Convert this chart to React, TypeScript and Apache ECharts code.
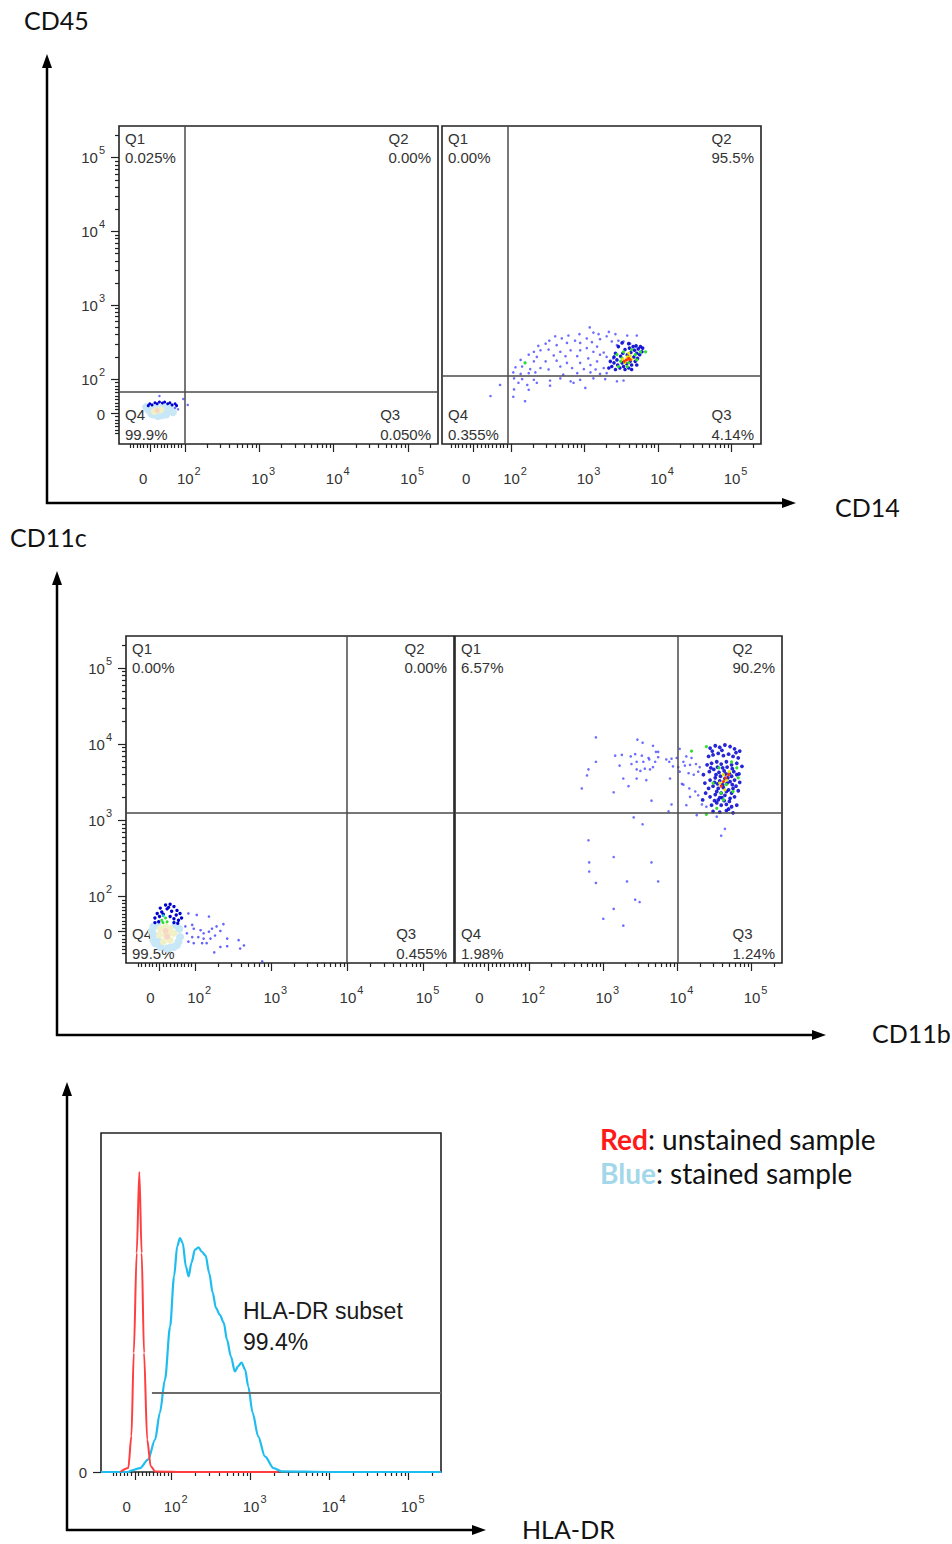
import React, { useEffect, useRef } from 'react';
import * as echarts from 'echarts';

// All values are in display units of a biexponential axis: 0 ≈ 1.5, 10^n = n.
const decadeTicks = [2, 3, 4, 5];

// Quadrant percentages in order Q1, Q2, Q3, Q4
const tlQuadrantPct = ['0.025%', '0.00%', '0.050%', '99.9%'];
const trQuadrantPct = ['0.00%', '95.5%', '4.14%', '0.355%'];
const mlQuadrantPct = ['0.00%', '0.00%', '0.455%', '99.5%'];
const mrQuadrantPct = ['6.57%', '90.2%', '1.24%', '1.98%'];

// Gate thresholds [x, y]
const tlGate = [2.0, 1.83];
const trGate = [1.95, 2.035];
const mlGate = [3.99, 3.1];
const mrGate = [4.0, 3.1];
const histGate = [1.75, 26.5];

// ---- CD14 vs CD45, unstained (top left)
const tlSparse = [[1.66, 1.77], [1.98, 1.73], [2.04, 1.65], [1.91, 1.59], [1.87, 1.61]];
const tlDense = [[1.53, 1.665], [1.6, 1.68], [1.66, 1.69], [1.73, 1.69], [1.8, 1.68], [1.87, 1.665], [1.56, 1.65], [1.63, 1.665], [1.7, 1.675], [1.77, 1.665], [1.83, 1.65], [1.89, 1.64], [1.51, 1.64]];
const tlPaleOuter = [[1.51, 1.585], [1.55, 1.53], [1.64, 1.5], [1.75, 1.52], [1.84, 1.55], [1.8, 1.62], [1.6, 1.63], [1.71, 1.63], [1.73, 1.56], [1.48, 1.62], [1.58, 1.52], [1.69, 1.51], [1.82, 1.58]];
const tlPaleInner = [[1.62, 1.575], [1.68, 1.585], [1.59, 1.56]];
const tlPaleCore = [[1.63, 1.575]];

// ---- CD14 vs CD45, stained (top right)
const trSparse = [[3.07, 2.7], [2.93, 2.61], [3.12, 2.63], [3.19, 2.61], [3.33, 2.64], [3.42, 2.61], [2.78, 2.59], [2.6, 2.58], [2.69, 2.552], [2.52, 2.52], [2.87, 2.52], [3.03, 2.55], [3.21, 2.54], [3.3, 2.58], [3.46, 2.52], [3.58, 2.59], [3.71, 2.59], [2.37, 2.45], [2.47, 2.48], [2.62, 2.46], [2.76, 2.49], [2.94, 2.49], [3.1, 2.5], [3.17, 2.44], [3.37, 2.51], [3.44, 2.46], [3.53, 2.51], [3.62, 2.48], [2.31, 2.37], [2.4, 2.39], [2.51, 2.4], [2.67, 2.37], [2.81, 2.39], [2.94, 2.39], [3.03, 2.42], [3.12, 2.37], [3.26, 2.36], [2.24, 2.33], [2.35, 2.3], [2.58, 2.32], [2.74, 2.31], [2.9, 2.31], [3.05, 2.28], [3.21, 2.33], [3.3, 2.3], [3.39, 2.28], [2.13, 2.26], [2.19, 2.22], [2.31, 2.24], [2.47, 2.24], [2.62, 2.25], [2.76, 2.22], [2.94, 2.22], [3.08, 2.19], [3.17, 2.24], [2.06, 2.16], [2.15, 2.17], [2.26, 2.135], [2.4, 2.15], [2.51, 2.13], [2.67, 2.17], [2.83, 2.15], [2.99, 2.135], [3.15, 2.13], [3.26, 2.15], [2.03, 2.09], [2.13, 2.07], [2.24, 2.08], [2.33, 2.09], [2.71, 2.06], [2.9, 2.08], [3.08, 2.09], [3.21, 2.07], [3.3, 2.08], [2.04, 2.01], [2.15, 2.0], [2.31, 1.99], [2.53, 1.98], [2.67, 2.01], [2.81, 1.97], [2.94, 1.99], [3.12, 2.01], [3.28, 2.0], [3.44, 1.97], [3.53, 1.98], [2.1, 1.95], [2.22, 1.92], [2.35, 1.95], [2.53, 1.91], [2.85, 1.95], [3.01, 1.88], [1.85, 1.92], [2.04, 1.86], [2.24, 1.855], [1.72, 1.77], [2.03, 1.76], [2.19, 1.7]];
const trDense = [[3.37, 2.17], [3.4, 2.22], [3.42, 2.13], [3.44, 2.26], [3.45, 2.19], [3.48, 2.15], [3.49, 2.31], [3.51, 2.22], [3.52, 2.35], [3.53, 2.17], [3.55, 2.4], [3.57, 2.21], [3.58, 2.33], [3.6, 2.15], [3.61, 2.42], [3.62, 2.24], [3.63, 2.36], [3.64, 2.19], [3.66, 2.44], [3.67, 2.3], [3.68, 2.39], [3.69, 2.24], [3.7, 2.45], [3.71, 2.35], [3.72, 2.28], [3.73, 2.41], [3.75, 2.33], [3.76, 2.44], [3.78, 2.37], [3.79, 2.42], [3.46, 2.44], [3.51, 2.49], [3.6, 2.48], [3.4, 2.3], [3.35, 2.24], [3.42, 2.35], [3.33, 2.15], [3.55, 2.13], [3.64, 2.13], [3.71, 2.19]];
const trGreen = [[3.44, 2.33], [3.49, 2.24], [3.53, 2.37], [3.6, 2.22], [3.64, 2.4], [3.69, 2.33], [3.76, 2.37], [3.83, 2.37], [3.46, 2.17], [3.58, 2.17], [3.71, 2.26], [3.51, 2.28], [2.19, 2.22]];
const trYellow = [[3.52, 2.27], [3.58, 2.3], [3.62, 2.31], [3.55, 2.22], [3.64, 2.27], [3.6, 2.35]];
const trRed = [[3.57, 2.26], [3.6, 2.28], [3.54, 2.24], [3.62, 2.26]];

// ---- CD11b vs CD11c, unstained (middle left)
const mlSparse = [[1.91, 1.78], [2.02, 1.76], [2.18, 1.74], [1.87, 1.61], [1.96, 1.63], [1.98, 1.58], [2.07, 1.56], [2.11, 1.52], [2.18, 1.54], [2.22, 1.58], [2.28, 1.61], [2.33, 1.55], [2.37, 1.64], [1.89, 1.52], [1.96, 1.47], [2.04, 1.47], [2.11, 1.45], [2.2, 1.45], [2.26, 1.49], [2.42, 1.45], [2.09, 1.39], [2.15, 1.39], [2.33, 1.34], [2.42, 1.35], [2.57, 1.43], [2.59, 1.32], [2.64, 1.36], [2.25, 1.27], [1.98, 1.39], [1.91, 1.41], [2.88, 1.15]];
const mlDense = [[1.54, 1.85], [1.61, 1.89], [1.67, 1.9], [1.72, 1.87], [1.76, 1.82], [1.8, 1.78], [1.5, 1.78], [1.56, 1.8], [1.63, 1.84], [1.69, 1.81], [1.75, 1.76], [1.47, 1.72], [1.53, 1.74], [1.67, 1.74], [1.72, 1.71], [1.78, 1.69], [1.47, 1.66], [1.52, 1.67], [1.72, 1.66], [1.77, 1.65], [1.82, 1.72], [1.65, 1.86], [1.58, 1.77]];
const mlGreen = [[1.56, 1.69], [1.61, 1.72], [1.575, 1.66], [1.63, 1.67]];
const mlCyan = [[1.58, 1.75]];
const mlPaleOuter = [[1.45, 1.61], [1.45, 1.5], [1.47, 1.39], [1.54, 1.34], [1.67, 1.33], [1.76, 1.365], [1.8, 1.47], [1.79, 1.58], [1.74, 1.63], [1.5, 1.63], [1.43, 1.55], [1.45, 1.43], [1.63, 1.32], [1.78, 1.41], [1.72, 1.34], [1.52, 1.41]];
const mlPaleInner = [[1.54, 1.58], [1.61, 1.61], [1.67, 1.58], [1.72, 1.52], [1.67, 1.43], [1.58, 1.41], [1.53, 1.5], [1.61, 1.5], [1.65, 1.52]];
const mlPaleCore = [[1.61, 1.55], [1.63, 1.475]];

// ---- CD11b vs CD11c, stained (middle right)
const mrSparse = [[2.9, 4.09], [3.46, 4.06], [3.53, 4.02], [3.67, 3.98], [3.71, 3.9], [3.74, 3.9], [3.16, 3.85], [3.25, 3.86], [3.37, 3.84], [3.43, 3.87], [3.52, 3.85], [3.61, 3.82], [3.74, 3.83], [2.9, 3.77], [3.22, 3.72], [3.38, 3.74], [3.45, 3.77], [3.54, 3.77], [3.62, 3.8], [3.7, 3.77], [3.85, 3.8], [3.92, 3.81], [3.99, 3.82], [3.89, 3.77], [2.8, 3.67], [2.78, 3.59], [3.45, 3.67], [3.5, 3.65], [3.56, 3.68], [3.63, 3.67], [3.67, 3.7], [3.27, 3.55], [3.45, 3.55], [3.58, 3.53], [3.9, 3.55], [2.71, 3.42], [3.14, 3.37], [3.34, 3.45], [3.65, 3.26], [3.92, 3.21], [3.88, 3.12], [3.41, 3.04], [3.53, 2.95], [4.03, 3.94], [4.12, 3.84], [4.19, 3.82], [4.08, 3.77], [3.94, 3.71], [4.01, 3.7], [4.1, 3.72], [4.17, 3.73], [4.25, 3.74], [4.3, 3.7], [4.03, 3.64], [4.15, 3.62], [4.22, 3.6], [4.28, 3.64], [4.08, 3.47], [4.16, 3.42], [4.24, 3.38], [4.28, 3.33], [4.17, 3.31], [4.12, 3.2], [4.06, 3.48], [4.33, 3.21], [4.26, 3.07], [4.39, 3.18], [4.53, 3.05], [4.64, 2.89], [4.59, 2.8], [2.8, 2.74], [3.14, 2.52], [2.81, 2.45], [3.65, 2.45], [2.81, 2.33], [2.9, 2.18], [3.32, 2.2], [3.74, 2.2], [3.43, 1.96], [3.49, 1.93], [3.14, 1.84], [3.0, 1.71], [3.27, 1.62]];
const mrDense = [[4.44, 3.95], [4.51, 3.98], [4.57, 3.96], [4.64, 3.99], [4.71, 3.97], [4.77, 3.94], [4.84, 3.91], [4.42, 3.84], [4.48, 3.86], [4.55, 3.88], [4.62, 3.85], [4.69, 3.87], [4.75, 3.84], [4.82, 3.82], [4.4, 3.73], [4.46, 3.75], [4.53, 3.77], [4.59, 3.74], [4.66, 3.77], [4.73, 3.73], [4.8, 3.75], [4.87, 3.71], [4.43, 3.64], [4.49, 3.67], [4.56, 3.63], [4.63, 3.65], [4.7, 3.62], [4.76, 3.64], [4.83, 3.61], [4.44, 3.53], [4.51, 3.56], [4.57, 3.52], [4.64, 3.55], [4.71, 3.51], [4.77, 3.53], [4.84, 3.5], [4.42, 3.42], [4.48, 3.45], [4.55, 3.42], [4.62, 3.43], [4.69, 3.4], [4.75, 3.42], [4.82, 3.39], [4.44, 3.31], [4.51, 3.34], [4.57, 3.3], [4.64, 3.33], [4.71, 3.29], [4.77, 3.31], [4.46, 3.2], [4.53, 3.23], [4.59, 3.2], [4.66, 3.21], [4.73, 3.18], [4.8, 3.2], [4.48, 3.12], [4.57, 3.11], [4.66, 3.13], [4.75, 3.1], [4.35, 3.6], [4.37, 3.49], [4.38, 3.36], [4.34, 3.27], [4.54, 3.7], [4.61, 3.69], [4.67, 3.7], [4.74, 3.68], [4.52, 3.6], [4.58, 3.58], [4.65, 3.61], [4.73, 3.58], [4.8, 3.6], [4.54, 3.48], [4.61, 3.47], [4.67, 3.49], [4.74, 3.47], [4.53, 3.38], [4.59, 3.36], [4.66, 3.38], [4.73, 3.36], [4.55, 3.27], [4.63, 3.26], [4.7, 3.25], [4.47, 3.91], [4.6, 3.92], [4.79, 3.89], [4.45, 3.69], [4.68, 3.56], [4.5, 3.5], [4.79, 3.45], [4.6, 3.3], [4.5, 3.26], [4.69, 3.15]];
const mrGreen = [[4.19, 3.91], [4.39, 3.97], [4.73, 3.77], [4.8, 3.69], [4.66, 3.47], [4.59, 3.36], [4.75, 3.38], [4.53, 3.16], [4.39, 3.08], [4.62, 3.27], [4.48, 3.49], [4.82, 3.56], [4.56, 3.69]];
const mrYellow = [[4.62, 3.6], [4.66, 3.53], [4.57, 3.49], [4.7, 3.64], [4.64, 3.4]];
const mrRed = [[4.65, 3.56], [4.62, 3.51], [4.69, 3.6], [4.59, 3.45]];

// ---- HLA-DR histogram (% of modal count)
const histRedX = [1.35, 1.45, 1.49, 1.52, 1.557, 1.59, 1.62, 1.65, 1.69, 1.735, 1.79, 2.2, 2.6, 3.0, 3.35];
const histRedY = [0, 1.3, 11.9, 39.7, 73, 100, 73, 39.7, 10.8, 1.9, 0.2, 0, 0, 0, 0];
const histBlueX = [1.105, 1.45, 1.49, 1.6, 1.7, 1.79, 1.85, 1.915, 1.98, 2.03, 2.07, 2.105, 2.14, 2.18, 2.215, 2.25, 2.295, 2.34, 2.38, 2.43, 2.475, 2.52, 2.56, 2.61, 2.66, 2.7, 2.75, 2.8, 2.84, 2.885, 2.93, 2.97, 3.025, 3.095, 3.18, 3.29, 3.39, 4.0, 5.41];
const histBlueY = [0, 0, 0.5, 1.3, 4.1, 10.8, 19.7, 30.8, 48.5, 65.2, 75.2, 78, 76.3, 68.5, 65.2, 69.7, 74.1, 74.9, 73.5, 72.1, 66.3, 59.7, 54.7, 52.4, 49.7, 44.1, 38.5, 33.5, 35.2, 36.5, 34.1, 28.5, 19.7, 11.9, 5.2, 1.3, 0.2, 0, 0];

const FONT = '"Liberation Sans", Arial, sans-serif';
const TITLE_FONT = 'Lato, "Open Sans", sans-serif';
const TXT = '#333';
const QFS = 15;

type Panel = {
  left: number; top: number; width: number; height: number;
  xMin: number; xMax: number; yMin: number; yMax: number;
  xZeroTick: number; xZeroLabel: number; yZeroTick?: number; yZeroLabel?: number; yLabels: boolean;
};

const P: Record<string, Panel> = {
  tl: { left: 119, top: 126, width: 319, height: 318, xMin: 1.117, xMax: 5.4, yMin: 1.12, yMax: 5.43, xZeroTick: 1.54, xZeroLabel: 1.44, yZeroTick: 1.54, yZeroLabel: 1.52, yLabels: true },
  tr: { left: 442, top: 126, width: 319, height: 318, xMin: 1.06, xMax: 5.4, yMin: 1.12, yMax: 5.43, xZeroTick: 1.49, xZeroLabel: 1.39, yLabels: false },
  ml: { left: 126, top: 636, width: 328, height: 327, xMin: 1.09, xMax: 5.4, yMin: 1.13, yMax: 5.42, xZeroTick: 1.53, xZeroLabel: 1.41, yZeroTick: 1.54, yZeroLabel: 1.52, yLabels: true },
  mr: { left: 455, top: 636, width: 327, height: 327, xMin: 1.0, xMax: 5.41, yMin: 1.13, yMax: 5.42, xZeroTick: 1.45, xZeroLabel: 1.33, yLabels: false },
  hist: { left: 101, top: 1133, width: 340, height: 339, xMin: 1.105, xMax: 5.41, yMin: 0, yMax: 113, xZeroTick: 1.535, xZeroLabel: 1.43, yLabels: false },
};

const tickRich = {
  z: { fontSize: 15, fontFamily: FONT, color: TXT, lineHeight: 26 },
  b: { fontSize: 15, fontFamily: FONT, color: TXT, lineHeight: 26 },
  s: { fontSize: 11, fontFamily: FONT, color: TXT, lineHeight: 11, padding: [0, 0, 15, 1] },
  p: { width: 8, lineHeight: 26, fontSize: 10 },
};

const xFmt = (v: number) => (v < 1.9 ? '{z|0}' : `{p| }{b|10}{s|${Math.round(v)}}`);
const yFmt = (v: number) => (v < 1.9 ? '{z|0}' : `{b|10}{s|${Math.round(v)}}`);

function minorTicks(min: number, max: number, zero: number) {
  const out: number[] = [];
  for (const d of [2, 3, 4, 5]) {
    for (let k = 2; k <= 9; k++) {
      const v = d + Math.log10(k);
      if (v > min && v < max) out.push(v);
    }
  }
  for (let j = -6; j <= 9; j++) {
    if (j === 0) continue;
    const v = zero + (j * (2 - zero)) / 10;
    if (v > min + 0.01 && v < 2) out.push(v);
  }
  return out;
}

const tickLine = { color: '#222', width: 1.2 };

function charW(s: string) {
  let w = 0;
  for (const c of s) w += c === '.' ? 0.278 : c === '%' ? 0.889 : c === 'Q' ? 0.778 : 0.556;
  return w * QFS;
}

function quadText(p: Panel, pct: string[]) {
  const r = p.left + p.width;
  const b = p.top + p.height;
  const x2 = r - 7 - charW(pct[1]);
  const x3 = r - 7 - charW(pct[2]);
  const t = (x: number, y: number, text: string) => ({
    type: 'text', x, y, silent: true,
    style: { text, fill: TXT, fontSize: QFS, fontFamily: FONT, verticalAlign: 'middle', align: 'left' },
  });
  return [
    t(p.left + 6, p.top + 12.5, 'Q1'), t(p.left + 6, p.top + 31.5, pct[0]),
    t(x2, p.top + 12.5, 'Q2'), t(x2, p.top + 31.5, pct[1]),
    t(x3, b - 30, 'Q3'), t(x3, b - 10, pct[2]),
    t(p.left + 6, b - 30, 'Q4'), t(p.left + 6, b - 10, pct[3]),
  ];
}

function arrow(x1: number, y1: number, x2: number, y2: number) {
  const dx = x2 - x1, dy = y2 - y1;
  const len = Math.hypot(dx, dy);
  const ux = dx / len, uy = dy / len;
  const hl = 14, hw = 5;
  const bx = x2 - ux * hl, by = y2 - uy * hl;
  return [
    { type: 'line', silent: true, shape: { x1, y1, x2: x2 - ux * 6, y2: y2 - uy * 6 }, style: { stroke: '#000', lineWidth: 2.5 } },
    { type: 'polygon', silent: true, shape: { points: [[x2, y2], [bx - uy * hw, by + ux * hw], [bx + uy * hw, by - ux * hw]] }, style: { fill: '#000' } },
  ];
}

function title(x: number, y: number, text: string, size = 25) {
  return { type: 'text', x, y, silent: true, style: { text, fill: '#111', fontSize: size, lineHeight: size, fontFamily: TITLE_FONT, verticalAlign: 'middle', align: 'left' } };
}

function buildOption() {
  const grid: any[] = [];
  const xAxis: any[] = [];
  const yAxis: any[] = [];
  const series: any[] = [];

  const addPanel = (p: Panel, isHist = false) => {
    const gi = grid.length;
    grid.push({ left: p.left, top: p.top, width: p.width, height: p.height, show: true, borderColor: '#222', borderWidth: 1.6, backgroundColor: 'transparent' });
    const xi = xAxis.length;
    xAxis.push({
      type: 'value', gridIndex: gi, min: p.xMin, max: p.xMax, position: 'bottom',
      axisLine: { show: false }, splitLine: { show: false },
      axisTick: { show: true, customValues: [p.xZeroTick, ...decadeTicks], length: 8, lineStyle: tickLine },
      axisLabel: { show: true, customValues: [p.xZeroLabel, ...decadeTicks], formatter: xFmt, rich: tickRich, margin: 21 },
    });
    xAxis.push({
      type: 'value', gridIndex: gi, min: p.xMin, max: p.xMax, position: 'bottom',
      axisLine: { show: false }, splitLine: { show: false },
      axisTick: { show: true, customValues: minorTicks(p.xMin, p.xMax, p.xZeroTick), length: 4, lineStyle: tickLine },
      axisLabel: { show: false },
    });
    const yi = yAxis.length;
    if (isHist) {
      yAxis.push({
        type: 'value', gridIndex: gi, min: p.yMin, max: p.yMax, position: 'left',
        axisLine: { show: false }, splitLine: { show: false },
        axisTick: { show: true, customValues: [0], length: 8, lineStyle: tickLine },
        axisLabel: { show: true, customValues: [0], formatter: () => '{z|0}', rich: tickRich, margin: 14 },
      });
    } else if (p.yLabels) {
      yAxis.push({
        type: 'value', gridIndex: gi, min: p.yMin, max: p.yMax, position: 'left',
        axisLine: { show: false }, splitLine: { show: false },
        axisTick: { show: true, customValues: [p.yZeroTick, ...decadeTicks], length: 8, lineStyle: tickLine },
        axisLabel: { show: true, customValues: [p.yZeroLabel, ...decadeTicks], formatter: yFmt, rich: tickRich, margin: 14 },
      });
      yAxis.push({
        type: 'value', gridIndex: gi, min: p.yMin, max: p.yMax, position: 'left',
        axisLine: { show: false }, splitLine: { show: false },
        axisTick: { show: true, customValues: minorTicks(p.yMin, p.yMax, p.yZeroTick as number), length: 4, lineStyle: tickLine },
        axisLabel: { show: false },
      });
    } else {
      yAxis.push({
        type: 'value', gridIndex: gi, min: p.yMin, max: p.yMax, position: 'left',
        axisLine: { show: false }, splitLine: { show: false }, axisTick: { show: false }, axisLabel: { show: false },
      });
    }
    return { xi, yi };
  };

  const gateLine = (g: number[]) => ({
    silent: true, symbol: ['none', 'none'], label: { show: false },
    lineStyle: { color: '#4a4a4a', width: 1.5, type: 'solid' },
    emphasis: { disabled: true },
    data: [{ xAxis: g[0] }, { yAxis: g[1] }],
  });

  const dots = (ax: { xi: number; yi: number }, data: number[][], color: string, size: number, opacity = 1, z = 2) => ({
    type: 'scatter', xAxisIndex: ax.xi, yAxisIndex: ax.yi, data, symbol: 'circle', symbolSize: size,
    itemStyle: { color, opacity }, silent: true, z,
  });

  const SPARSE = '#3c3cff';
  const DARK = '#0000d0';
  const GREEN = '#2fe02f';
  const YELLOW = '#e8e800';
  const RED = '#ff3a00';
  const PALE_C = '#c8e7f7';
  const PALE_Y = '#f1f0c6';
  const PALE_P = '#f7d6c6';

  // top left
  const tl = addPanel(P.tl);
  series.push({ ...dots(tl, tlPaleOuter, PALE_C, 8, 1, 1), markLine: gateLine(tlGate) });
  series.push(dots(tl, tlPaleInner, PALE_Y, 7, 1, 1));
  series.push(dots(tl, tlPaleCore, PALE_P, 5, 1, 1));
  series.push(dots(tl, tlDense, DARK, 3));
  series.push(dots(tl, tlSparse, SPARSE, 2.5, 0.75));

  // top right
  const tr = addPanel(P.tr);
  series.push({ ...dots(tr, trSparse, SPARSE, 2.6, 0.75), markLine: gateLine(trGate) });
  series.push(dots(tr, trDense, DARK, 3.6, 0.9));
  series.push(dots(tr, trGreen, GREEN, 3.2));
  series.push(dots(tr, trYellow, YELLOW, 3.2));
  series.push(dots(tr, trRed, RED, 3.2));

  // middle left
  const ml = addPanel(P.ml);
  series.push({ ...dots(ml, mlPaleOuter, PALE_C, 8, 1, 1), markLine: gateLine(mlGate) });
  series.push(dots(ml, mlPaleInner, PALE_Y, 7, 1, 1));
  series.push(dots(ml, mlPaleCore, PALE_P, 6, 1, 1));
  series.push(dots(ml, mlSparse, SPARSE, 2.6, 0.8));
  series.push(dots(ml, mlDense, DARK, 3.4));
  series.push(dots(ml, mlCyan, '#22c8d8', 3));
  series.push(dots(ml, mlGreen, GREEN, 3));

  // middle right
  const mr = addPanel(P.mr);
  series.push({ ...dots(mr, mrSparse, SPARSE, 2.6, 0.75), markLine: gateLine(mrGate) });
  series.push(dots(mr, mrDense, DARK, 3.8, 0.85));
  series.push(dots(mr, mrGreen, GREEN, 3.2));
  series.push(dots(mr, mrYellow, YELLOW, 3.2));
  series.push(dots(mr, mrRed, RED, 3.2));

  // histogram
  const h = addPanel(P.hist, true);
  series.push({
    type: 'line', xAxisIndex: h.xi, yAxisIndex: h.yi, data: histBlueX.map((x, i) => [x, histBlueY[i]]),
    showSymbol: false, symbol: 'none', smooth: 0.3, smoothMonotone: 'x', silent: true,
    lineStyle: { color: '#1fbdef', width: 2.2 }, z: 2,
    markLine: {
      silent: true, symbol: ['none', 'none'], label: { show: false },
      lineStyle: { color: '#6a6a6a', width: 2.2, type: 'solid' },
      data: [[{ coord: [histGate[0], histGate[1]] }, { coord: [P.hist.xMax, histGate[1]] }]],
    },
  });
  series.push({
    type: 'line', xAxisIndex: h.xi, yAxisIndex: h.yi, data: histRedX.map((x, i) => [x, histRedY[i]]),
    showSymbol: false, symbol: 'none', smooth: 0.3, smoothMonotone: 'x', silent: true,
    lineStyle: { color: '#ff3f3f', width: 2 }, z: 3,
  });

  const legendRich = (color: string) => ({
    r: { fontSize: 28, fontFamily: TITLE_FONT, fontWeight: 'bold', fill: color },
    t: { fontSize: 28, fontFamily: TITLE_FONT, fill: '#111' },
  });

  const graphic: any[] = [
    ...arrow(47, 504, 47, 54), ...arrow(46, 503, 796, 503),
    ...arrow(57, 1036, 57, 571), ...arrow(56, 1035, 826, 1035),
    ...arrow(67, 1531, 67, 1082), ...arrow(66, 1530, 486, 1530),
    title(24, 20, 'CD45'), title(835, 507, 'CD14'),
    title(10, 537, 'CD11c'), title(872, 1033, 'CD11b'),
    title(522, 1529, 'HLA-DR', 25),
    ...quadText(P.tl, tlQuadrantPct), ...quadText(P.tr, trQuadrantPct),
    ...quadText(P.ml, mlQuadrantPct), ...quadText(P.mr, mrQuadrantPct),
    { type: 'text', x: 243, y: 1311, silent: true, style: { text: 'HLA-DR subset', fill: '#1a1a1a', fontSize: 23, fontFamily: FONT, verticalAlign: 'middle' } },
    { type: 'text', x: 243, y: 1342, silent: true, style: { text: '99.4%', fill: '#1a1a1a', fontSize: 23, fontFamily: FONT, verticalAlign: 'middle' } },
    { type: 'text', x: 600, y: 1139, silent: true, style: { text: '{r|Red}{t|: unstained sample}', verticalAlign: 'middle', rich: legendRich('#ff1a1a') } },
    { type: 'text', x: 600, y: 1173, silent: true, style: { text: '{r|Blue}{t|: stained sample}', verticalAlign: 'middle', rich: legendRich('#a3d7ea') } },
  ];

  return { animation: false, backgroundColor: '#fff', grid, xAxis, yAxis, series, graphic };
}

export default function App() {
  const ref = useRef<HTMLDivElement>(null);
  useEffect(() => {
    if (!ref.current) return;
    const chart = echarts.init(ref.current, undefined, { renderer: 'svg' });
    chart.setOption(buildOption() as any);
    return () => chart.dispose();
  }, []);
  return <div ref={ref} style={{ position: 'fixed', left: 0, top: 0, width: 952, height: 1544, background: '#fff' }} />;
}
